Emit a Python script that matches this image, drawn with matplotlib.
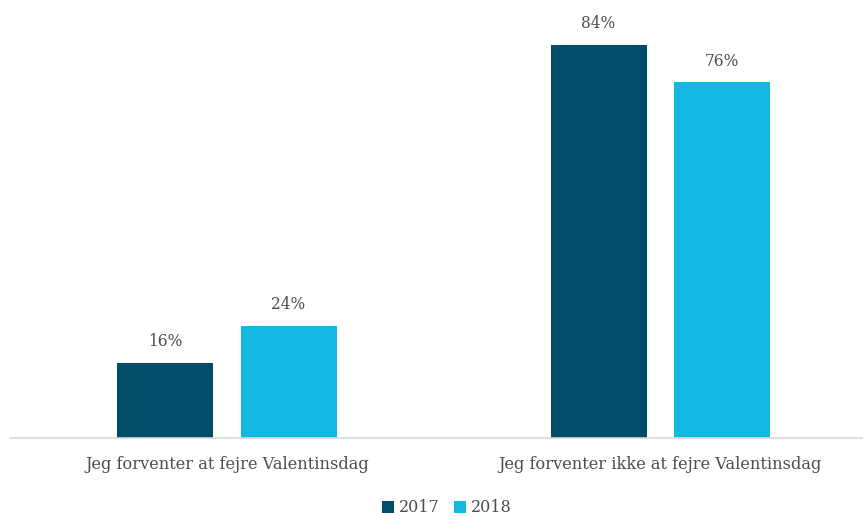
import numpy as np
import matplotlib
matplotlib.use("Agg")
import matplotlib.pyplot as plt

plt.rc('font', family=['DejaVu Serif'])

categories = ['Jeg forventer at fejre Valentinsdag', 'Jeg forventer ikke at fejre Valentinsdag']
years = ['2017', '2018']
v2017 = [16, 84]
v2018 = [24, 76]

color = ['#014D69', '#14B9E3']
txt = '#4D4D4D'

fig = plt.figure(figsize=(8.63, 5.17), dpi=100)
ax = fig.add_axes([10/863., 79/517., 852/863., 438/517.])

x = np.arange(len(categories))
w = 0.2215
off = 0.1425
b1 = ax.bar(x-off, v2017, w, color=color[0], label=years[0])
b2 = ax.bar(x+off, v2018, w, color=color[1], label=years[1])

for bars in [b1, b2]:
	for r in bars:
		h = r.get_height()
		ax.text(r.get_x()+r.get_width()/2, h+2.7, '%d%%' % h, ha='center', va='bottom', fontsize=11.2, color=txt)

ax.set_xlim(-0.5, 1.465)
ax.set_ylim(0, 93.6)
ax.set_xticks(x)
ax.set_xticklabels(categories, fontsize=11.7, color=txt)
ax.tick_params(axis='x', length=0, pad=13)
ax.set_yticks([])
for s in ['top', 'right', 'left']:
	ax.spines[s].set_visible(False)
ax.spines['bottom'].set_color('#D9D9D9')
ax.spines['bottom'].set_linewidth(1.2)

leg = fig.legend(loc='center', bbox_to_anchor=(447/863., 1-508/517.), ncol=2, frameon=False,
	fontsize=11.5, handlelength=0.75, handleheight=0.75, handletextpad=0.3, columnspacing=0.9)
for t in leg.get_texts():
	t.set_color(txt)

plt.savefig('out.png', dpi=100)
